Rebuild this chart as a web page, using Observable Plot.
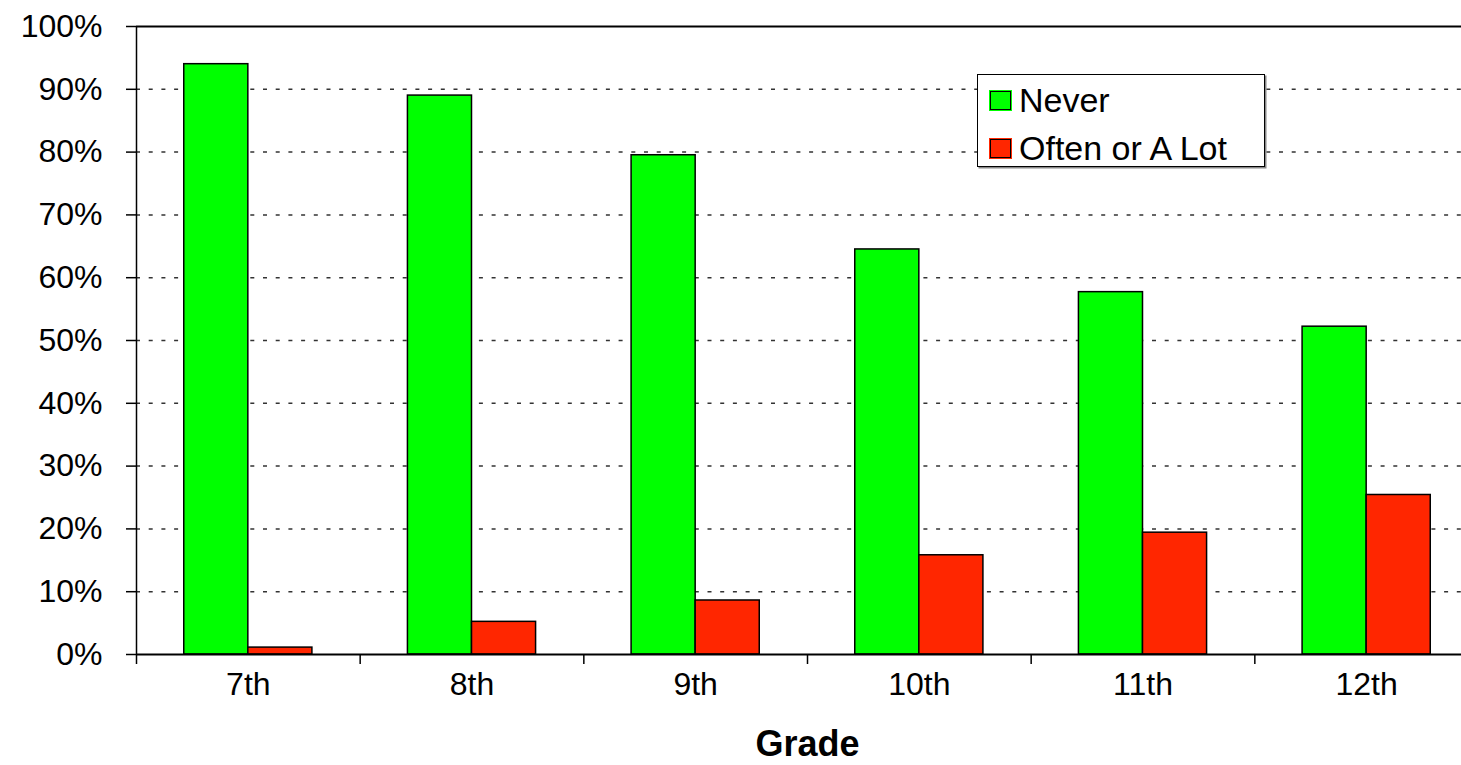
<!DOCTYPE html>
<html>
<head>
<meta charset="utf-8">
<script src="https://cdn.jsdelivr.net/npm/d3@7"></script>
<script src="https://cdn.jsdelivr.net/npm/@observablehq/plot@0.6"></script>
<style>
  html, body { margin: 0; padding: 0; background: #fff; overflow: hidden; }
  #wrap { position: relative; width: 1461px; height: 765px; overflow: hidden; font-family: "Liberation Sans", Arial, sans-serif; }
  #wrap svg { max-width: none !important; display: block; }
  #legend { position: absolute; left: 977px; top: 74px; width: 288px; height: 93px; box-sizing: border-box;
            border: 1.5px solid #000; background: #fff; box-shadow: 1.5px 1.5px 0 #888; }
  .item { position: absolute; left: 12px; display: flex; align-items: center; font-size: 34px; color: #000; white-space: nowrap; }
  .sw { width: 19px; height: 17px; border: 1px solid #000; box-sizing: content-box; margin-right: 8px; }
</style>
</head>
<body>
<div id="wrap"><div id="legend"></div></div>
<script>
const grades = ["7th", "8th", "9th", "10th", "11th", "12th"];
const seriesNames = ["Never", "Often or A Lot"];
const neverValues = [94.0, 89.0, 79.5, 64.5, 57.7, 52.2];
const oftenValues = [1.1, 5.2, 8.6, 15.8, 19.4, 25.4];
const seriesColors = ["#00ff00", "#ff2600"];
const yTickValues = [0, 10, 20, 30, 40, 50, 60, 70, 80, 90, 100];
const gridValues = [10, 20, 30, 40, 50, 60, 70, 80, 90];

const gap = 0.427;
const barW = (1 - gap) / 2;
const rows = grades.flatMap((g, i) => [
  {grade: g, i, series: seriesNames[0], value: neverValues[i], k: 0},
  {grade: g, i, series: seriesNames[1], value: oftenValues[i], k: 1}
]);
const boundaries = d3.range(grades.length + 1);
const centers = grades.map((g, i) => i + 0.5);

const font = "'Liberation Sans', Arial, sans-serif";

const chart = Plot.plot({
  width: 1478,
  height: 765,
  marginLeft: 136,
  marginRight: 0,
  marginTop: 26,
  marginBottom: 111,
  style: {fontFamily: font, fontSize: "32px", color: "#000", background: "#fff", overflow: "hidden", maxWidth: "none"},
  x: {type: "linear", domain: [0, grades.length]},
  y: {domain: [0, 100]},
  color: {domain: seriesNames, range: seriesColors},
  marks: [
    Plot.ruleY(gridValues, {stroke: "#333", strokeWidth: 1.5, strokeDasharray: "4,8.7"}),
    Plot.rectY(rows, {
      x1: d => d.i + gap / 2 + d.k * barW,
      x2: d => d.i + gap / 2 + (d.k + 1) * barW,
      y1: 0,
      y2: "value",
      fill: "series",
      stroke: "#000",
      strokeWidth: 1.5
    }),
    Plot.ruleY([0, 100], {stroke: "#000", strokeWidth: 2}),
    Plot.ruleX([0], {stroke: "#000", strokeWidth: 1.5}),
    Plot.axisY({ticks: yTickValues, tickFormat: d => d + "%", tickSize: 10, tickPadding: 24, fontSize: 32, stroke: "#000", strokeWidth: 1.5, label: null}),
    Plot.axisX({ticks: boundaries, tickFormat: () => "", tickSize: 10, stroke: "#000", strokeWidth: 1.5, label: null}),
    Plot.axisX({ticks: centers, tickFormat: d => grades[Math.floor(d)], tickSize: 0, tickPadding: 18, fontSize: 32, label: null}),
    Plot.text(["Grade"], {frameAnchor: "bottom", dy: 90, lineAnchor: "middle", fontSize: 36, fontWeight: "bold", fill: "#000", style: "letter-spacing: 1px"})
  ]
});
document.getElementById("wrap").prepend(chart);

const legend = document.getElementById("legend");
seriesNames.forEach((name, j) => {
  const item = document.createElement("div");
  item.className = "item";
  item.style.top = (j === 0 ? 6 : 54) + "px";
  const sw = document.createElement("span");
  sw.className = "sw";
  sw.style.background = seriesColors[j];
  sw.style.outline = "1.5px solid " + seriesColors[j];
  const t = document.createElement("span");
  t.textContent = name;
  item.append(sw, t);
  legend.append(item);
});
</script>
</body>
</html>
